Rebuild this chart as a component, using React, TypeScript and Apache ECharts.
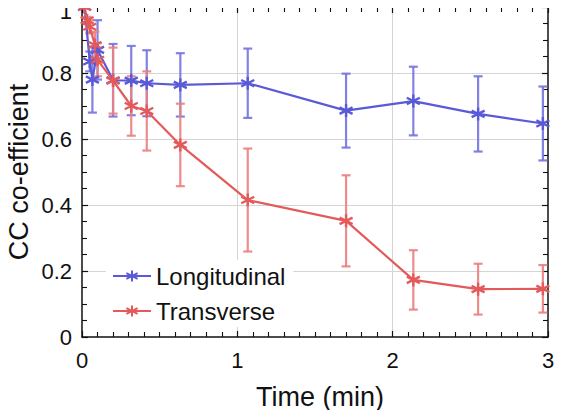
import React, { useEffect, useRef } from "react";
import * as echarts from "echarts";

const longTime = [0.017, 0.05, 0.067, 0.1, 0.2, 0.317, 0.417, 0.633, 1.067, 1.7, 2.133, 2.55, 2.967];
const longValue = [1.0, 0.835, 0.78, 0.87, 0.778, 0.777, 0.769, 0.764, 0.769, 0.686, 0.715, 0.676, 0.647];
const longErr = [0, 0.03, 0.1, 0.09, 0.11, 0.105, 0.1, 0.096, 0.105, 0.112, 0.104, 0.114, 0.112];

const transTime = [0.017, 0.033, 0.05, 0.083, 0.1, 0.2, 0.317, 0.417, 0.633, 1.067, 1.7, 2.133, 2.55, 2.967];
const transValue = [1.0, 0.96, 0.94, 0.885, 0.84, 0.777, 0.7, 0.685, 0.582, 0.415, 0.352, 0.173, 0.145, 0.146];
const transErr = [0, 0.01, 0.02, 0.04, 0.05, 0.1, 0.09, 0.12, 0.125, 0.156, 0.138, 0.09, 0.077, 0.072];

const seriesNames = ["Longitudinal", "Transverse"];
const xTicks = [0, 1, 2, 3];
const yTicks = [0, 0.2, 0.4, 0.6, 0.8, 1];

const BLUE = "#5a5ad8";
const BLUE_ERR = "#7474e0";
const RED = "#e45a5a";
const RED_ERR = "#ec8080";
const FONT = "Liberation Sans, Arial, sans-serif";

const ASTERISK = "path://M5,0L5,10M0.67,2.5L9.33,7.5M0.67,7.5L9.33,2.5";

function errRender(color: string) {
  return (params: any, api: any) => {
    const x = api.value(0);
    const lo = api.value(1);
    const hi = api.value(2);
    if (hi - lo <= 0) return { type: "group", children: [] };
    const p1 = api.coord([x, lo]);
    const p2 = api.coord([x, hi]);
    const w = 4.5;
    const style = { stroke: color, lineWidth: 2.2, opacity: 0.9 };
    return {
      type: "group",
      children: [
        { type: "line", shape: { x1: p1[0], y1: p1[1], x2: p2[0], y2: p2[1] }, style },
        { type: "line", shape: { x1: p1[0] - w, y1: p1[1], x2: p1[0] + w, y2: p1[1] }, style },
        { type: "line", shape: { x1: p2[0] - w, y1: p2[1], x2: p2[0] + w, y2: p2[1] }, style },
      ],
    };
  };
}

export default function App() {
  const ref = useRef<HTMLDivElement>(null);
  useEffect(() => {
    if (!ref.current) return;
    const chart = echarts.init(ref.current, undefined, { renderer: "svg" });
    const axisCommon = {
      type: "value" as const,
      axisLine: { show: true, onZero: false, lineStyle: { color: "#111", width: 1.5 } },
      axisTick: { show: true, inside: true, length: 6, lineStyle: { color: "#111", width: 1.2 } },
      minorTick: { show: true, length: 5, lineStyle: { color: "#111", width: 1.1 } },
    };
    const longData = longTime.map((t, i) => [t, longValue[i]]);
    const transData = transTime.map((t, i) => [t, transValue[i]]);
    const longErrData = longTime.map((t, i) => [t, longValue[i] - longErr[i], longValue[i] + longErr[i]]);
    const transErrData = transTime.map((t, i) => [t, transValue[i] - transErr[i], transValue[i] + transErr[i]]);
    chart.setOption({
      animation: false,
      backgroundColor: "#fff",
      grid: { left: 82, right: 16, top: 7, bottom: 81, containLabel: false, outerBoundsMode: "none" },
      legend: {
        data: seriesNames,
        orient: "vertical",
        left: 106,
        top: 260,
        itemWidth: 38,
        itemHeight: 14,
        itemGap: 11,
        padding: [4, 8, 4, 6],
        backgroundColor: "#fff",
        textStyle: { fontFamily: FONT, fontSize: 24, lineHeight: 24, color: "#111" },
      },
      xAxis: [
        {
          ...axisCommon,
          min: 0,
          max: 3,
          interval: 1,
          minorTick: { ...axisCommon.minorTick, splitNumber: 10 },
          name: "Time (min)",
          nameLocation: "middle",
          nameGap: 46,
          nameMoveOverlap: false,
          nameTextStyle: { fontFamily: FONT, fontSize: 27, color: "#111", padding: [0, 0, 0, 10] },
          axisLabel: {
            margin: 12,
            fontFamily: FONT,
            fontSize: 22,
            color: "#111",
            formatter: (v: number) => (xTicks.includes(v) ? String(v) : ""),
          },
          splitLine: {
            show: true,
            lineStyle: { color: "#d4d4d4", width: 1 },
            showMinLine: false,
            showMaxLine: false,
          },
        },
        {
          ...axisCommon,
          position: "top",
          min: 0,
          max: 3,
          interval: 1,
          minorTick: { ...axisCommon.minorTick, splitNumber: 10 },
          axisLabel: { show: false },
          splitLine: { show: false },
        },
      ],
      yAxis: [
        {
          ...axisCommon,
          min: 0,
          max: 1,
          interval: 0.2,
          minorTick: { ...axisCommon.minorTick, splitNumber: 4 },
          name: "CC co-efficient",
          nameLocation: "middle",
          nameGap: 50,
          nameMoveOverlap: false,
          nameTextStyle: { fontFamily: FONT, fontSize: 27, color: "#111" },
          axisLabel: {
            margin: 10,
            fontFamily: FONT,
            fontSize: 22,
            color: "#111",
            formatter: (v: number) => {
              const r = Math.round(v * 10) / 10;
              if (!yTicks.includes(r)) return "";
              return r === 1 ? "{t|1}" : String(r);
            },
            rich: { t: { fontFamily: FONT, fontSize: 22, color: "#111", padding: [8, 0, 0, 0] } },
          },
          splitLine: {
            show: true,
            lineStyle: { color: "#d4d4d4", width: 1 },
            showMinLine: false,
            showMaxLine: false,
          },
        },
        {
          ...axisCommon,
          position: "right",
          min: 0,
          max: 1,
          interval: 0.2,
          minorTick: { ...axisCommon.minorTick, splitNumber: 4 },
          axisLabel: { show: false },
          splitLine: { show: false },
        },
      ],
      series: [
        {
          type: "custom",
          name: "LongErr",
          renderItem: errRender(BLUE_ERR),
          data: longErrData,
          encode: { x: 0, y: [1, 2] },
          z: 1,
          silent: true,
        },
        {
          type: "custom",
          name: "TransErr",
          renderItem: errRender(RED_ERR),
          data: transErrData,
          encode: { x: 0, y: [1, 2] },
          z: 1,
          silent: true,
        },
        {
          type: "line",
          name: seriesNames[0],
          data: longData,
          symbol: ASTERISK,
          symbolSize: 13,
          color: BLUE,
          lineStyle: { color: BLUE, width: 2.2 },
          itemStyle: { color: "none", borderColor: BLUE, borderWidth: 2.4 },
          z: 3,
        },
        {
          type: "line",
          name: seriesNames[1],
          data: transData,
          symbol: ASTERISK,
          symbolSize: 13,
          color: RED,
          lineStyle: { color: RED, width: 2.2 },
          itemStyle: { color: "none", borderColor: RED, borderWidth: 2.4 },
          z: 3,
        },
      ],
    });
    return () => chart.dispose();
  }, []);
  return <div ref={ref} style={{ width: 564, height: 418, margin: -8 }} />;
}
